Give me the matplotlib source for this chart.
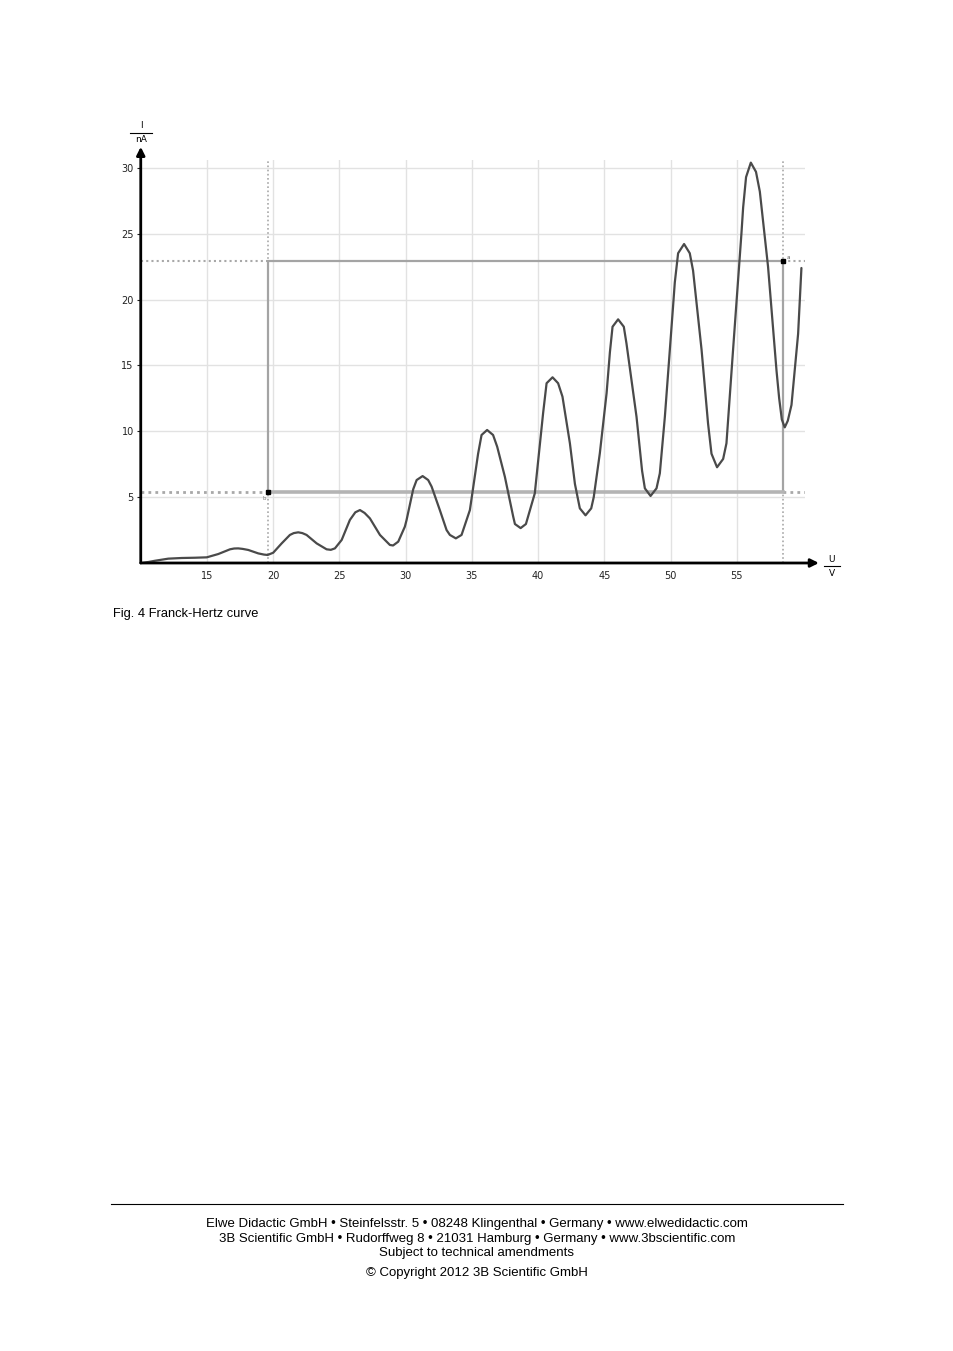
import numpy as np
import matplotlib
matplotlib.use("Agg")
import matplotlib.pyplot as plt

# Franck-Hertz curve: U in V, I in nA
u_volts = [10.07, 10.60, 11.07, 12.08, 13.09, 14.09, 14.98, 15.85, 16.74, 17.05,
           17.36, 17.70, 18.12, 18.87, 19.30, 19.58, 20.00, 20.64, 21.26, 21.55,
           21.89, 22.20, 22.52, 23.28, 24.03, 24.35, 24.66, 25.17, 25.79, 26.20,
           26.55, 26.90, 27.30, 28.06, 28.81, 29.05, 29.44, 29.94, 30.07, 30.57,
           30.83, 31.28, 31.70, 31.96, 32.58, 33.09, 33.34, 33.79, 34.22, 34.85,
           35.47, 35.73, 36.15, 36.60, 36.91, 37.49, 38.12, 38.25, 38.68, 39.08,
           39.75, 40.38, 40.64, 41.09, 41.51, 41.84, 42.40, 42.78, 43.15, 43.58,
           44.01, 44.20, 44.66, 45.17, 45.42, 45.62, 46.04, 46.47, 46.67, 47.43,
           47.85, 48.06, 48.49, 48.94, 49.19, 49.57, 50.19, 50.32, 50.57, 51.02,
           51.45, 51.70, 52.34, 52.83, 53.09, 53.51, 53.97, 54.22, 54.72, 55.35,
           55.48, 55.70, 56.06, 56.45, 56.74, 57.36, 58.00, 58.20, 58.40, 58.62,
           58.85, 59.13, 59.63, 59.88]
i_nano = [0.00, 0.08, 0.17, 0.33, 0.38, 0.40, 0.43, 0.68, 1.04, 1.10,
          1.11, 1.07, 0.99, 0.73, 0.64, 0.61, 0.78, 1.49, 2.13, 2.27,
          2.33, 2.27, 2.13, 1.49, 1.04, 1.00, 1.11, 1.75, 3.27, 3.85,
          4.02, 3.80, 3.39, 2.13, 1.37, 1.33, 1.62, 2.76, 3.27, 5.60,
          6.30, 6.60, 6.30, 5.80, 4.02, 2.50, 2.13, 1.87, 2.13, 4.02,
          8.30, 9.72, 10.10, 9.72, 8.83, 6.55, 3.52, 2.96, 2.65, 2.96,
          5.29, 11.40, 13.65, 14.10, 13.65, 12.63, 9.09, 6.00, 4.15, 3.62,
          4.15, 5.00, 8.33, 12.89, 16.00, 17.94, 18.50, 17.94, 16.68, 11.10,
          7.00, 5.67, 5.09, 5.67, 6.81, 11.10, 19.50, 21.30, 23.52, 24.22,
          23.52, 22.20, 16.20, 10.60, 8.30, 7.27, 7.90, 9.09, 16.20, 25.00,
          27.00, 29.30, 30.40, 29.70, 28.20, 22.50, 14.60, 12.50, 10.90, 10.30,
          10.80, 12.00, 17.40, 22.40]

# evaluation window (cursors)
u_left, u_right = 19.6, 58.5
i_low, i_high = 5.4, 22.9

x_ticks = [15, 20, 25, 30, 35, 40, 45, 50, 55]
y_ticks = [5, 10, 15, 20, 25, 30]

W, H = 954, 1351
fig = plt.figure(figsize=(W / 100, H / 100), dpi=100)

x0_px, x1_px, y0_px, y1_px = 140.75, 805, 563, 160
ax = fig.add_axes([x0_px / W, 1 - y0_px / H, (x1_px - x0_px) / W, (y0_px - y1_px) / H])
ax.set_xlim(10, 60.15)
ax.set_ylim(0, 30.6)

for s in ax.spines.values():
    s.set_visible(False)

grid_c = "#e2e2e2"
for xv in x_ticks:
    ax.axvline(xv, color=grid_c, lw=1, zorder=0)
for yv in y_ticks:
    ax.axhline(yv, color=grid_c, lw=1, zorder=0)

# dotted cursor guides
dot_c = "#a8a8a8"
ax.plot([u_left, u_left], [0, 30.6], ls=(0, (1, 1.5)), color=dot_c, lw=1.2, zorder=1)
ax.plot([u_right, u_right], [0, 30.6], ls=(0, (1, 1.5)), color=dot_c, lw=1.2, zorder=1)
ax.plot([10, u_left], [i_high, i_high], ls=(0, (1, 1.5)), color=dot_c, lw=1.5, zorder=1)
ax.plot([10, u_left], [i_low, i_low], ls=(0, (1, 1.5)), color=dot_c, lw=2, zorder=1)
ax.plot([u_right, 60.15], [i_high, i_high], ls=(0, (1, 1.5)), color=dot_c, lw=1.5, zorder=1)
ax.plot([u_right, 60.15], [i_low, i_low], ls=(0, (1, 1.5)), color=dot_c, lw=2, zorder=1)

# solid window
box_c = "#a4a4a4"
ax.plot([u_left, u_left, u_right, u_right], [i_low, i_high, i_high, i_low],
        color=box_c, lw=1.6, zorder=2)
ax.plot([u_left, u_right], [i_low, i_low], color="#b4b4b4", lw=2.6, zorder=2)
ax.plot([u_left], [i_low], marker="s", ms=2.5, color="black", zorder=4)
ax.plot([u_right], [i_high], marker="s", ms=2.5, color="black", zorder=4)
ax.text(u_left - 0.3, i_low - 0.35, "b", fontsize=4, color="#777777", ha="center", va="top")
ax.text(u_right + 0.3, i_high + 0.1, "a", fontsize=4, color="#555555", ha="left", va="bottom")

# measured curve
ax.plot(u_volts, i_nano, color="#4a4a4a", lw=1.6, zorder=3,
        solid_capstyle="round", solid_joinstyle="round")

# axes with arrows
ax.annotate("", xy=(61.2, 0), xytext=(10, 0), xycoords="data",
            arrowprops=dict(arrowstyle="-|>", color="black", lw=2, mutation_scale=12,
                            shrinkA=0, shrinkB=0), annotation_clip=False, zorder=5)
ax.annotate("", xy=(10, 31.6), xytext=(10, 0), xycoords="data",
            arrowprops=dict(arrowstyle="-|>", color="black", lw=2, mutation_scale=12,
                            shrinkA=0, shrinkB=0), annotation_clip=False, zorder=5)

ax.set_xticks(x_ticks)
ax.set_yticks(y_ticks)
ax.tick_params(axis="x", length=0, pad=6, labelsize=7, colors="#222222")
ax.tick_params(axis="y", length=3, width=0.8, pad=2, labelsize=7, colors="#222222")

# axis unit labels as fractions
fig.text(141 / W, 1 - 126 / H, "I", fontsize=6.5, ha="center", va="center")
fig.add_artist(plt.Line2D([130 / W, 152 / W], [1 - 133 / H, 1 - 133 / H], color="black", lw=0.8))
fig.text(141 / W, 1 - 139 / H, "nA", fontsize=6.5, ha="center", va="center")
fig.text(832 / W, 1 - 560 / H, "U", fontsize=6.5, ha="center", va="center")
fig.add_artist(plt.Line2D([824 / W, 840 / W], [1 - 566 / H, 1 - 566 / H], color="black", lw=0.8))
fig.text(832 / W, 1 - 573 / H, "V", fontsize=6.5, ha="center", va="center")

fam = ["Liberation Sans Narrow", "Liberation Sans", "DejaVu Sans"]
fig.text(113 / W, 1 - 614 / H, "Fig. 4 Franck-Hertz curve", fontsize=9.3, family=fam,
         ha="left", va="center")

# footer
fig.add_artist(plt.Line2D([111 / W, 843 / W], [1 - 1204 / H, 1 - 1204 / H], color="black", lw=0.8))
footer = ["Elwe Didactic GmbH \u2022 Steinfelsstr. 5 \u2022 08248 Klingenthal \u2022 Germany \u2022 www.elwedidactic.com",
          "3B Scientific GmbH \u2022 Rudorffweg 8 \u2022 21031 Hamburg \u2022 Germany \u2022 www.3bscientific.com",
          "Subject to technical amendments",
          "\u00a9 Copyright 2012 3B Scientific GmbH"]
for line, ypx in zip(footer, [1224, 1239, 1253, 1273]):
    fig.text(477 / W, 1 - ypx / H, line, fontsize=9.5, family=fam, ha="center", va="center")

fig.savefig("out.png", dpi=100)
